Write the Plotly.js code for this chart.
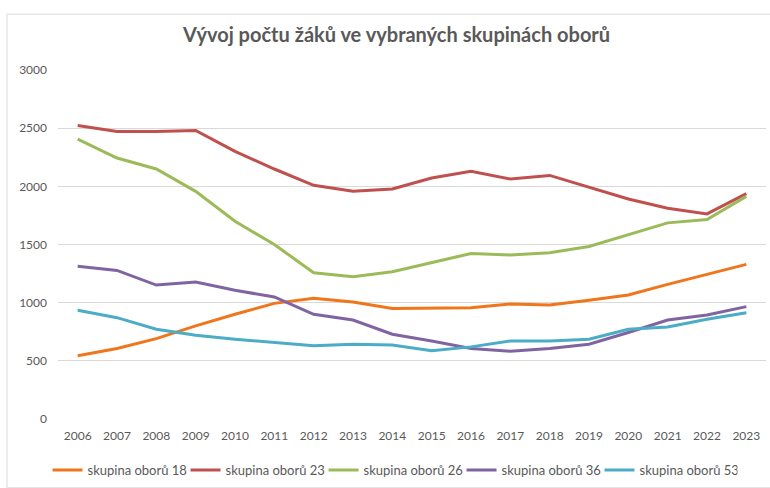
<!DOCTYPE html>
<html><head><meta charset="utf-8">
<script src="https://cdn.plot.ly/plotly-3.0.1.min.js"></script>
<style>html,body{margin:0;padding:0;background:#fff;}#chart{width:770px;height:488px;}</style>
</head><body><div id="chart"></div>
<script>
const years = ['2006','2007','2008','2009','2010','2011','2012','2013','2014','2015','2016','2017','2018','2019','2020','2021','2022','2023'];
const names = ['skupina oborů 18','skupina oborů 23','skupina oborů 26','skupina oborů 36','skupina oborů 53'];
const s18 = [543,606,691,800,900,994,1037,1006,949,954,957,989,980,1020,1066,1157,1243,1329];
const s23 = [2523,2471,2471,2480,2300,2149,2009,1957,1977,2071,2129,2063,2094,1994,1891,1811,1763,1937];
const s26 = [2406,2243,2149,1957,1700,1500,1257,1223,1266,1343,1423,1409,1429,1483,1586,1686,1714,1914];
const s36 = [1314,1277,1151,1177,1106,1049,900,851,729,671,606,583,606,643,743,851,894,966];
const s53 = [934,871,771,720,686,657,629,643,637,586,620,671,671,686,771,791,857,914];
const series = [s18,s23,s26,s36,s53];
const colors = ['#EF761C','#C0504D','#9BBB59','#8064A2','#4BACC6'];
const yTicks = [0,500,1000,1500,2000,2500,3000];

const FONT = 'Lato, "Open Sans", sans-serif';
const traces = series.map((s,i)=>({
  type:'scatter', mode:'lines', x:years, y:s, name:names[i],
  line:{color:colors[i], width:3}
}));
const layout = {
  width:770, height:488,
  margin:{l:58, r:4, t:70, b:68},
  paper_bgcolor:'#fff', plot_bgcolor:'#fff',
  font:{family:FONT, color:'#595959', size:12},
  title:{text:'<b>Vývoj počtu žáků ve vybraných skupinách oborů</b>', font:{family:FONT, size:20, color:'#595959'}, x:0.515, xanchor:'center', y:40, yref:'container', yanchor:'middle'},
  xaxis:{type:'category', range:[-0.5,17.5], showgrid:false, zeroline:false, showline:false, ticks:'', ticklabelstandoff:8, tickfont:{size:12, color:'#595959'}, fixedrange:true},
  yaxis:{range:[0,3000], tickvals:yTicks, ticktext:yTicks.map(String), showgrid:true, gridcolor:'#D9D9D9', gridwidth:1, zeroline:false, showline:false, ticks:'', ticklabelstandoff:10, tickfont:{size:12, color:'#595959'}, fixedrange:true},
  legend:{orientation:'h', x:-0.0148, xanchor:'left', y:-50/350, yanchor:'middle', yref:'paper', entrywidth:93, entrywidthmode:'pixels', font:{size:13, color:'#595959'}, traceorder:'normal'},
  showlegend:true,
  shapes:[{type:'rect', xref:'paper', yref:'paper', x0:-51/708, x1:1.05, y0:-69/350, y1:(70-14)/350+1, line:{color:'#D9D9D9', width:1}, fillcolor:'rgba(0,0,0,0)'}]
};
Plotly.newPlot('chart', traces, layout, {displayModeBar:false, staticPlot:true});
</script></body></html>
